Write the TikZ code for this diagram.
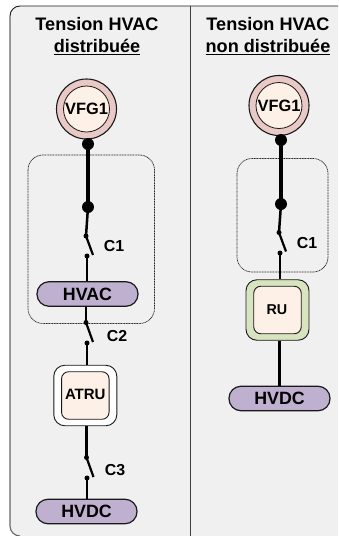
\documentclass[tikz,border=0pt]{standalone}
\usepackage{fontspec}
\setmainfont{Liberation Sans}
\definecolor{panelbg}{HTML}{F0F0F0}
\definecolor{peach}{HTML}{FDF0E6}
\definecolor{rose}{HTML}{E8C9C6}
\definecolor{lilac}{HTML}{BFB0D0}
\definecolor{sage}{HTML}{D8E4C0}
\tikzset{
  lbl/.style={font=\bfseries\fontsize{#1}{#1}\selectfont,inner sep=0pt,text=black},
  ring/.style={circle,draw=black!90,line width=1.1pt,inner sep=0pt,minimum size=60pt,fill=rose},
  core/.style={circle,draw=black!90,line width=0.8pt,inner sep=0pt,minimum size=46pt,fill=peach,font=\bfseries\fontsize{16.4}{16.4}\selectfont},
  pill/.style={rectangle,rounded corners=12pt,draw=black!90,line width=1.2pt,fill=lilac,minimum width=101pt,minimum height=24.5pt,inner sep=0pt},
  outerbox/.style={rectangle,rounded corners=11pt,draw=black!90,line width=0.9pt,minimum width=63pt,minimum height=60.5pt,inner sep=0pt},
  innerbox/.style={rectangle,rounded corners=7pt,draw=black!90,line width=0.9pt,fill=peach,minimum width=47.5pt,minimum height=47.5pt,inner sep=0pt},
  zone/.style={draw=black!85,dash pattern=on 1pt off 0.6pt,line width=0.7pt,rounded corners=15pt},
  bigdot/.style={circle,fill=black,inner sep=0pt,minimum size=12pt},
  tinydot/.style={circle,fill=black,inner sep=0pt,minimum size=5pt},
  thick bus/.style={line width=4.4pt},
  thin bus/.style={line width=2.5pt},
  blade/.style={line width=2.2pt},
}
\begin{document}
\begin{tikzpicture}[x=1pt,y=-1pt]
\useasboundingbox (0,0) rectangle (338,536);
% panel (the y axis points down, so the arc angles are mirrored)
\fill[panelbg] (338,6) -- (20,6) arc[start angle=270,end angle=180,radius=10] -- (10,526) arc[start angle=180,end angle=90,radius=10] -- (338,536) -- cycle;
\draw[black!90,line width=0.9pt] (338,6) -- (20,6) arc[start angle=270,end angle=180,radius=10];
\draw[black!60,line width=1.1pt] (10,16) -- (10,526) arc[start angle=180,end angle=90,radius=10];
\draw[black!75,line width=1pt] (190.7,6) -- (190.7,536);
% titles
\node[lbl=18.1] (t1) at (97,24) {Tension HVAC};
\node[lbl=18.1] (t2) at (97,47) {\underline{distribuée}};
\node[lbl=18.1] (t3) at (268,24) {Tension HVAC};
\node[lbl=18.1] (t4) at (268,47) {\underline{non distribuée}};
% zones
\draw[zone] (28,155) rectangle (154.5,323.5);
\draw[zone] (237,158.5) rectangle (328,272);
% left column nodes
\node[ring] (lvfgo) at (86.5,109) {};
\node[core] (lvfg) at (86.5,109) {VFG1};
\node[bigdot] (ld1) at (88,144) {};
\node[bigdot] (ld2) at (88,207) {};
\node[tinydot] (ls1a) at (86,236) {};
\node[tinydot] (ls1b) at (87,256) {};
\coordinate (ls1c) at (93,255);
\node[pill] (lhvac) at (87.5,294) {};
\node[lbl=17.8] at (87.5,294.5) {HVAC};
\node[tinydot] (ls2a) at (86,322.5) {};
\node[tinydot] (ls2b) at (87,343) {};
\coordinate (ls2c) at (93,342);
\node[outerbox,fill=white] (latruo) at (85.3,395.5) {};
\node[innerbox] (latru) at (85.3,395.5) {};
\node[lbl=15] at (85.3,394.5) {ATRU};
\node[tinydot] (ls3a) at (86.5,457.5) {};
\node[tinydot] (ls3b) at (87,478) {};
\coordinate (ls3c) at (93.5,477);
\node[pill] (lhvdc) at (86.5,511.5) {};
\node[lbl=17.8] at (86.5,511.5) {HVDC};
% labels
\node[lbl=15.9] (c1l) at (114,246) {C1};
\node[lbl=15.9] (c2l) at (117,336) {C2};
\node[lbl=15.9] (c3l) at (115,470) {C3};
% right column nodes
\node[ring] (rvfgo) at (279,105.5) {};
\node[core] (rvfg) at (279,105.5) {VFG1};
\node[bigdot] (rd1) at (281,140) {};
\node[bigdot] (rd2) at (281,204) {};
\node[tinydot] (rs1a) at (279,232.5) {};
\node[tinydot] (rs1b) at (280,253) {};
\coordinate (rs1c) at (286,251.5);
\node[outerbox,fill=sage] (rruo) at (277.5,310) {};
\node[innerbox] (rru) at (277.5,310) {};
\node[lbl=14.3] at (277,309.5) {RU};
\node[pill] (rhvdc) at (279.5,398.5) {};
\node[lbl=17.8] at (279.5,398) {HVDC};
\node[lbl=15.9] (c1r) at (307,243) {C1};
% connectors
\draw[thick bus] (lvfgo.south -| ld1) -- (ld2.center);
\draw[thin bus] (ld2.center) -- (ls1a.center);
\draw[blade] (ls1a.center) -- (ls1c);
\draw[thin bus] (ls1b.center) -- (lhvac.north -| ls1b);
\draw[thin bus] (lhvac.south -| ls2a) -- (ls2a.center);
\draw[blade] (ls2a.center) -- (ls2c);
\draw[thin bus] (ls2b.center) -- (latruo.north -| ls2b);
\draw[thin bus] (latruo.south -| ls3a) -- (ls3a.center);
\draw[blade] (ls3a.center) -- (ls3c);
\draw[thin bus] (ls3b.center) -- (lhvdc.north -| ls3b);
\draw[thick bus] (rvfgo.south -| rd1) -- (rd2.center);
\draw[thin bus] (rd2.center) -- (rs1a.center);
\draw[blade] (rs1a.center) -- (rs1c);
\draw[thin bus] (rs1b.center) -- (rruo.north -| rs1b);
\draw[thin bus] (rruo.south -| rhvdc) -- (rhvdc.north);
\end{tikzpicture}
\end{document}
